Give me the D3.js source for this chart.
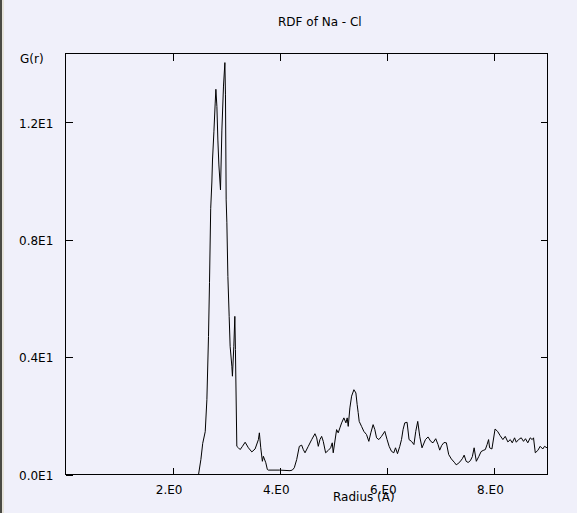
<!DOCTYPE html>
<html>
<head>
<meta charset="utf-8">
<script src="https://cdn.jsdelivr.net/npm/d3@7/dist/d3.min.js"></script>
<style>
  html, body { margin: 0; padding: 0; background: #F0F0FA; }
  svg { display: block; }
  text { font-family: "DejaVu Sans", sans-serif; font-size: 12px; fill: #000; }
</style>
</head>
<body>
<svg id="chart" width="577" height="513"></svg>
<script>
const title = "RDF of Na - Cl";
const xTitle = "Radius (A)";
const yTitle = "G(r)";
const xTickValues = [2, 4, 6, 8];
const xTickLabels = ["2.E0", "4.E0", "6.E0", "8.E0"];
const yTickValues = [0, 4, 8, 12];
const yTickLabels = ["0.0E1", "0.4E1", "0.8E1", "1.2E1"];

const radius = [0, 2.484, 2.528, 2.562, 2.609, 2.640, 2.670, 2.689, 2.711, 2.733, 2.745, 2.771, 2.795, 2.808,
  2.827, 2.845, 2.864, 2.894, 2.920, 2.950, 2.976, 2.987, 3.000, 3.013, 3.032, 3.056, 3.074, 3.106, 3.117,
  3.143, 3.162, 3.173, 3.199, 3.229, 3.261, 3.304, 3.354, 3.415, 3.479, 3.540, 3.602, 3.620, 3.646, 3.676,
  3.695, 3.740, 3.769, 3.788, 3.993, 4.192, 4.235, 4.272, 4.317, 4.366, 4.410, 4.440, 4.472, 4.533, 4.597,
  4.658, 4.690, 4.720, 4.751, 4.783, 4.813, 4.857, 4.906, 4.951, 4.981, 4.999, 5.062, 5.092, 5.124, 5.156,
  5.198, 5.236, 5.260, 5.279, 5.310, 5.342, 5.385, 5.422, 5.446, 5.465, 5.484, 5.528, 5.571, 5.621, 5.664,
  5.701, 5.744, 5.776, 5.808, 5.851, 5.901, 5.962, 6.005, 6.043, 6.087, 6.130, 6.162, 6.199, 6.242, 6.274,
  6.303, 6.335, 6.378, 6.415, 6.460, 6.506, 6.540, 6.577, 6.615, 6.657, 6.721, 6.769, 6.820, 6.862, 6.913,
  6.956, 6.987, 7.024, 7.067, 7.112, 7.155, 7.205, 7.267, 7.295, 7.328, 7.365, 7.410, 7.444, 7.481, 7.518,
  7.559, 7.597, 7.630, 7.671, 7.719, 7.760, 7.798, 7.839, 7.872, 7.900, 7.919, 7.962, 8.021, 8.068, 8.114,
  8.167, 8.211, 8.260, 8.305, 8.342, 8.385, 8.417, 8.459, 8.510, 8.552, 8.589, 8.632, 8.677, 8.714, 8.739,
  8.772, 8.819, 8.863, 8.912, 8.944, 8.990];
const gr = [0, 0, 0.51, 1.06, 1.46, 2.55, 4.70, 6.54, 9.06, 9.97, 10.72, 11.68, 12.66, 13.13,
  12.54, 11.40, 10.55, 9.70, 11.74, 13.24, 14.04, 12.94, 9.36, 8.58, 6.75, 5.39, 4.37, 3.69, 3.35,
  4.37, 5.39, 4.26, 0.96, 0.91, 0.85, 0.96, 1.10, 0.91, 0.77, 0.87, 1.19, 1.42, 0.91, 0.45,
  0.62, 0.40, 0.17, 0.15, 0.15, 0.13, 0.15, 0.23, 0.51, 0.96, 1.00, 0.85, 0.74, 0.96, 1.19,
  1.39, 1.25, 0.96, 1.19, 1.30, 1.13, 0.74, 0.82, 0.91, 1.08, 0.74, 1.53, 1.42, 1.59, 1.76,
  1.93, 1.76, 1.93, 1.64, 2.27, 2.67, 2.89, 2.78, 2.38, 2.11, 1.81, 1.64, 1.47, 1.36, 1.13,
  1.42, 1.70, 1.53, 1.25, 1.19, 1.30, 1.47, 1.19, 0.96, 0.79, 0.74, 0.91, 0.71, 0.96, 1.19,
  1.53, 1.76, 1.78, 1.19, 1.13, 1.02, 1.47, 1.81, 1.29, 0.91, 1.19, 1.28, 1.13, 1.08, 1.22,
  1.02, 0.83, 0.99, 1.09, 1.08, 0.68, 0.53, 0.40, 0.33, 0.37, 0.43, 0.54, 0.66, 0.45, 0.41,
  0.47, 0.61, 0.91, 0.45, 0.62, 0.78, 0.82, 0.85, 1.02, 1.19, 0.91, 0.87, 1.55, 1.47, 1.33,
  1.19, 1.30, 1.11, 1.19, 1.08, 1.25, 1.10, 1.19, 1.25, 1.13, 1.22, 1.08, 1.25, 1.19, 1.25,
  0.74, 0.82, 0.96, 0.87, 0.96, 0.91];

const svg = d3.select("#chart");
const L = 65.5, R = 547.5, T = 53.5, B = 474.5;

// window left border
svg.append("rect").attr("x", 0).attr("y", 0).attr("width", 2).attr("height", 513).attr("fill", "#4a4a44");
svg.append("rect").attr("x", 2).attr("y", 0).attr("width", 2).attr("height", 513).attr("fill", "#e6e3da");

const x = d3.scaleLinear().domain([0, 9]).range([L, R]);
const y = d3.scaleLinear().domain([0, 14.35]).range([B, T]);

// frame
svg.append("rect").attr("x", L).attr("y", T).attr("width", R - L).attr("height", B - T)
  .attr("fill", "none").attr("stroke", "#000").attr("stroke-width", 1).attr("shape-rendering", "crispEdges");

function styleAxis(g) {
  g.select(".domain").remove();
  g.selectAll(".tick line").attr("stroke", "#000").attr("shape-rendering", "crispEdges");
}

const gB = svg.append("g").attr("transform", `translate(0,${B})`)
  .call(d3.axisBottom(x).tickValues(xTickValues).tickSize(-7)
    .tickFormat((d, i) => xTickLabels[i]));
styleAxis(gB);
gB.selectAll(".tick text").attr("y", 19.5).attr("dy", 0).attr("x", -4)
  .attr("font-family", "DejaVu Sans, sans-serif").attr("font-size", 12).attr("fill", "#000");

const gT = svg.append("g").attr("transform", `translate(0,${T})`)
  .call(d3.axisTop(x).tickValues(xTickValues).tickSize(-7).tickFormat(""));
styleAxis(gT);

const gL = svg.append("g").attr("transform", `translate(${L},0)`)
  .call(d3.axisLeft(y).tickValues(yTickValues).tickSize(-7)
    .tickFormat((d, i) => yTickLabels[i]));
styleAxis(gL);
gL.selectAll(".tick text").attr("x", 19 - L).attr("text-anchor", "start").attr("dy", "0.4em")
  .attr("font-family", "DejaVu Sans, sans-serif").attr("font-size", 12).attr("fill", "#000");

const gR = svg.append("g").attr("transform", `translate(${R},0)`)
  .call(d3.axisRight(y).tickValues(yTickValues.filter(v => v > 0)).tickSize(-7).tickFormat(""));
styleAxis(gR);

// curve
const pts = radius.map((r, i) => [r, gr[i]]);
svg.append("path").datum(pts)
  .attr("fill", "none").attr("stroke", "#000").attr("stroke-width", 1)
  .attr("d", d3.line().x(d => x(d[0])).y(d => y(d[1])));

// texts
svg.append("text").attr("x", 278).attr("y", 26).text(title);
svg.append("text").attr("x", 20).attr("y", 63).text(yTitle);
svg.append("text").attr("x", 333).attr("y", 501).text(xTitle);
</script>
</body>
</html>
